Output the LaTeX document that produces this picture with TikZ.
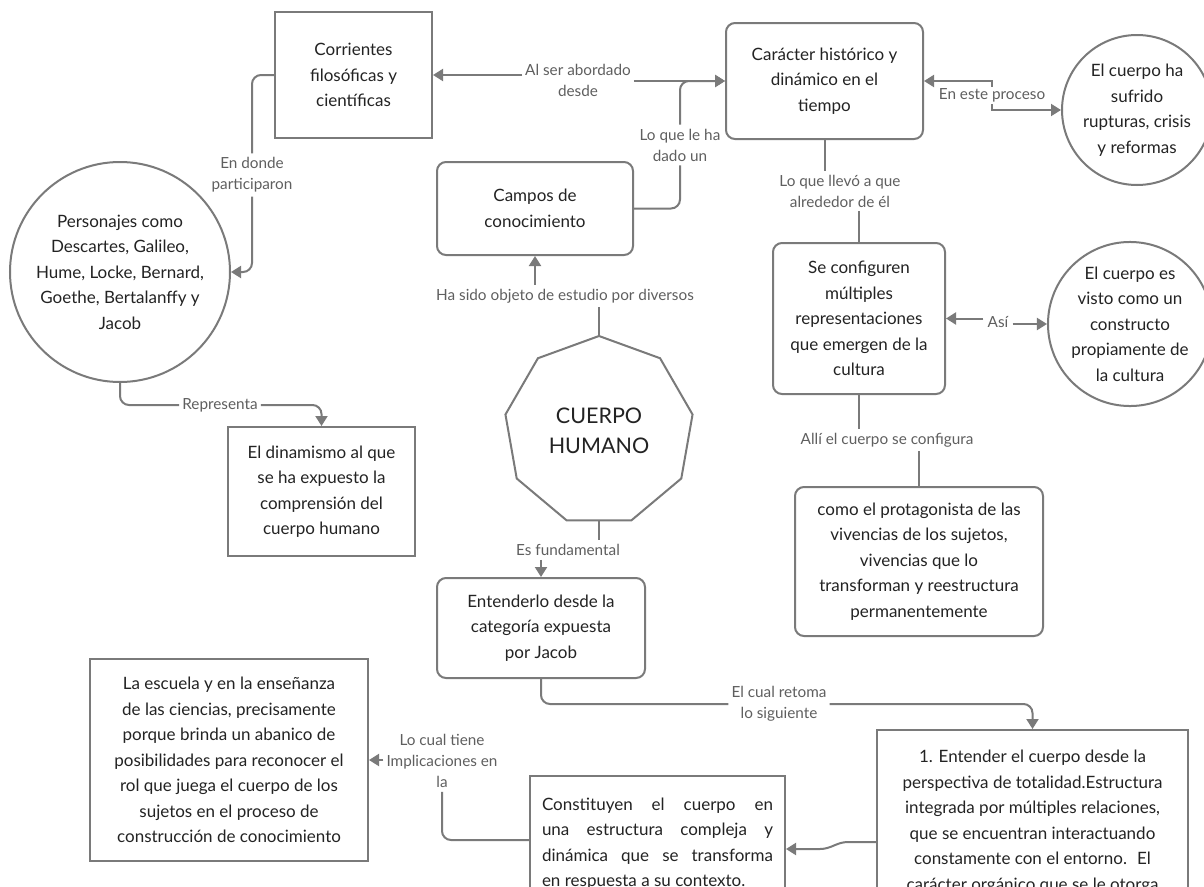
\documentclass[tikz,border=0pt]{standalone}
\usepackage{fontspec}
\setmainfont{Lato}
\usetikzlibrary{shapes.geometric,arrows.meta}
\definecolor{edgec}{RGB}{122,122,122}
\definecolor{lbltext}{RGB}{95,95,95}
\definecolor{txtc}{RGB}{35,35,35}
\newcommand\nodefont{\fontsize{17}{25.5}\selectfont}
\newcommand\lblfont{\fontsize{15.3}{21}\selectfont}
\newcommand\bigfont{\fontsize{21.5}{30}\selectfont}
\tikzset{
 box/.style={draw=edgec, line width=2pt, text=txtc, align=center, inner sep=0pt, font=\nodefont},
 rbox/.style={box, rounded corners=9pt},
 circ/.style={box, circle},
 lbl/.style={text=lbltext, font=\lblfont, align=center, inner xsep=3pt, inner ysep=4pt},
 conn/.style={draw=edgec, line width=2pt},
 arr/.style={conn, -{Triangle[length=10pt,width=12pt]}},
 rc/.style={rounded corners=9pt},
}
\begin{document}
\begin{tikzpicture}[x=1pt,y=-1pt]
\useasboundingbox (0,0) rectangle (1204,886);
\clip (0,0) rectangle (1204,886);
\fill[white] (0,0) rectangle (1204,886);
% nodes
\node[box, minimum width=157pt, minimum height=126pt] (corr) at (353.5,75) {Corrientes\\filosóficas y\\científicas};
\node[rbox, minimum width=197pt, minimum height=116pt] (carac) at (824.5,81) {Carácter histórico y\\dinámico en el\\tiempo};
\node[circ, minimum size=150pt] (rupt) at (1137,110) {El cuerpo ha\\sufrido\\rupturas, crisis\\y reformas};
\node[rbox, minimum width=196pt, minimum height=93pt] (campos) at (535,208.5) {Campos de\\conocimiento};
\node[circ, minimum size=220pt] (person) at (120,272) {Personajes como\\Descartes, Galileo,\\Hume, Locke, Bernard,\\Goethe, Bertalanffy y\\Jacob};
\node[box, minimum width=187pt, minimum height=129pt] (dinam) at (321.5,491.5) {El dinamismo al que\\se ha expuesto la\\comprensión del\\cuerpo humano};
\node[box, regular polygon, regular polygon sides=9, minimum size=190pt, font=\bigfont] (cuerpo) at (599,431) {CUERPO\\HUMANO};
\node[rbox, minimum width=208pt, minimum height=100pt] (entend) at (541,628) {Entenderlo desde la\\categoría expuesta\\por Jacob};
\node[rbox, minimum width=172pt, minimum height=151pt] (seconf) at (859,318.5) {Se configuren\\múltiples\\representaciones\\que emergen de la\\cultura};
\node[circ, minimum size=162pt] (visto) at (1130,324) {El cuerpo es\\visto como un\\constructo\\propiamente de\\la cultura};
\node[rbox, minimum width=248pt, minimum height=149pt] (como) at (919,561.5) {como el protagonista de las\\vivencias de los sujetos,\\vivencias que lo\\transforman y reestructura\\permanentemente};
\node[box, minimum width=278pt, minimum height=202pt] (escuela) at (229,760) {La escuela y en la enseñanza\\de las ciencias, precisamente\\porque brinda un abanico de\\posibilidades para reconocer el\\rol que juega el cuerpo de los\\sujetos en el proceso de\\construcción de conocimiento};
\node[box, anchor=north, minimum width=255pt, minimum height=135pt] (constit) at (657.5,775) {\makebox[231pt][s]{Constituyen el cuerpo en}\\\makebox[231pt][s]{una estructura compleja y}\\\makebox[231pt][s]{dinámica que se transforma}\\\makebox[231pt][l]{en respuesta a su contexto.}};
\node[box, anchor=north, minimum width=311pt, minimum height=184pt] (uno) at (1032.5,729) {1. Entender el cuerpo desde la\\perspectiva de totalidad.Estructura\\integrada por múltiples relaciones,\\que se encuentran interactuando\\constamente con el entorno.~ El\\carácter orgánico que se le otorga};
% labels
\node[lbl] (la) at (578,80) {Al ser abordado\\desde};
\node[lbl] (lh) at (680,145) {Lo que le ha\\dado un};
\node[lbl] (ll) at (840,191) {Lo que llevó a que\\alrededor de él};
\node[lbl, inner xsep=4pt] (as) at (998,322) {Así};
\node[lbl] (al) at (887,440) {Allí el cuerpo se configura};
\node[lbl] (hs) at (565,296) {Ha sido objeto de estudio por diversos};
\node[lbl] (ef) at (568,550) {Es fundamental};
\node[lbl] (ec) at (779,704) {El cual retoma\\lo siguiente};
\node[lbl] (lc) at (442,761) {Lo cual tiene\\Implicaciones en\\la};
\node[lbl] (ed) at (252,175) {En donde\\participaron};
\node[lbl] (rp) at (220,405) {Representa};
% connectors
\draw[arr] (la.west |- corr.east) -- (corr.east);
\draw[arr] (la.east |- carac.west) -- (carac.west);
\draw[conn, rc] (campos.east) -| (lh.south);
\draw[arr, rc] (lh.north) |- (carac.west);
\draw[conn, {Triangle[length=10pt,width=12pt]}-{Triangle[length=10pt,width=12pt]}] (carac.east) -- (carac.east -| 992,0) -- node[lbl, fill=white, inner ysep=2pt] (lp) {En este proceso} (rupt.west -| 992,0) -- (rupt.west);
\draw[conn] (carac.south) -- (carac.south |- ll.north);
\draw[conn] (ll.south -| seconf.north) -- (seconf.north);
\draw[arr] (as.west |- seconf.east) -- (seconf.east);
\draw[arr] (as.east |- visto.west) -- (visto.west);
\draw[conn] (seconf.south) -- (seconf.south |- al.north);
\draw[conn] (al.south -| como.north) -- (como.north);
\draw[conn] (cuerpo.north) -- (cuerpo.north |- hs.south);
\draw[arr] (hs.north -| campos.south) -- (campos.south);
\draw[conn] (cuerpo.south) -- (cuerpo.south |- ef.north);
\draw[arr] (ef.south -| entend.north) -- (entend.north);
\draw[conn, rc] (entend.south) |- (ec.west);
\draw[arr, rc] (ec.east) -| (uno.north);
\draw[arr] (uno.west |- 0,842) -- (848,842) to[out=180,in=0] (820,849) -- (constit.east |- 0,849);
\draw[conn, rc] (constit.west |- 0,840) -| (lc.south);
\draw[arr] (lc.west |- escuela.east) -- (escuela.east);
\draw[conn, rc] (corr.west) -| (ed.north);
\draw[arr, rc] (ed.south) |- (person.east);
\draw[conn, rc] (person.south) |- (rp.west);
\draw[arr, rc] (rp.east) -| (dinam.north);
\end{tikzpicture}
\end{document}
